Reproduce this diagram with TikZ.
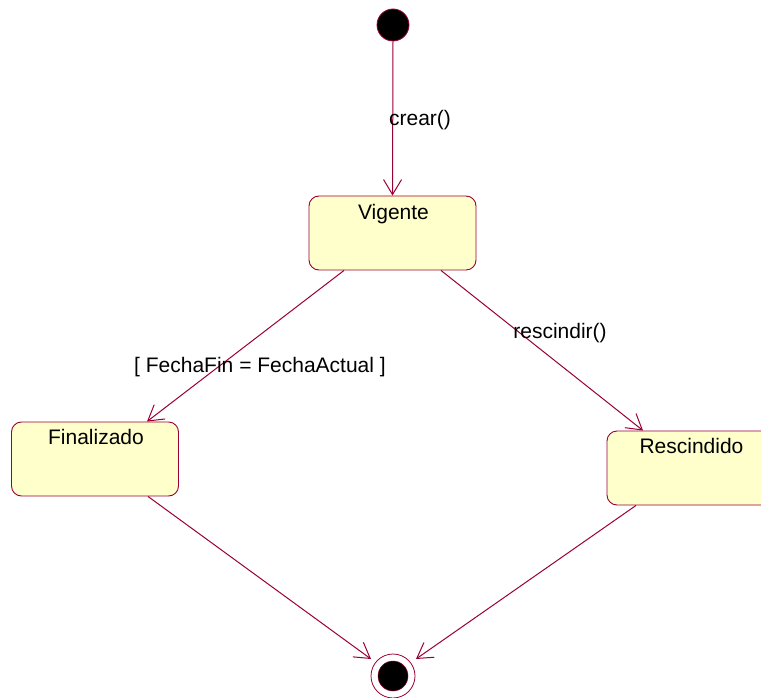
\documentclass[tikz,border=0pt]{standalone}
\usepackage{fontspec}
\setmainfont{Liberation Sans}
\usetikzlibrary{arrows.meta,calc}
\definecolor{edge}{HTML}{990033}
\definecolor{fillc}{HTML}{FFFFCC}
\tikzset{
  statebox/.style={draw=edge, fill=fillc, rounded corners=10pt, minimum width=167pt, minimum height=74pt, line width=0.9pt, inner sep=0pt},
  statetext/.style={anchor=base, font=\fontsize{21pt}{23pt}\selectfont, inner sep=0pt},
  conn/.style={draw=edge, line width=1pt, -{Straight Barb[length=15pt,width=18pt,line width=1pt]}},
  lbl/.style={font=\fontsize{21pt}{23pt}\selectfont, inner sep=0pt}
}
\begin{document}
\begin{tikzpicture}[x=1pt,y=-1pt]
\useasboundingbox (0,0) rectangle (761,698);
% initial
\node (init) [circle, draw=edge, fill=black, minimum size=32pt, inner sep=0pt, line width=0.8pt] at (393,25) {};
% final
\node (final) [circle, draw=edge, minimum size=44pt, inner sep=0pt, line width=0.8pt] at (393,676) {};
\node (finalin) [circle, draw=edge, fill=black, minimum size=30pt, inner sep=0pt, line width=0.5pt] at (393,676) {};
% states
\node (vig) [statebox] at (392.5,233) {};
\node (vigt) [statetext] at ($(vig.north)+(1,24)$) {Vigente};
\node (fin) [statebox] at (95,459) {};
\node (fint) [statetext] at ($(fin.north)+(1,23)$) {Finalizado};
\node (res) [statebox] at (690.5,468) {};
\node (rest) [statetext] at ($(res.north)+(1,23)$) {Rescindido};
% connectors
\draw[conn] (init.south) -- (vig.north);
\draw[conn] ($(vig.south)+(-48.5,0)$) -- ($(fin.north)+(52,0)$);
\draw[conn] ($(vig.south)+(48.5,0)$) -- ($(res.north)+(-47.5,0)$);
\draw[conn] ($(fin.south)+(53,0)$) -- ($(final.center)+(-22,-17)$);
\draw[conn] ($(res.south)+(-54.5,0)$) -- ($(final.center)+(23,-17)$);
% labels
\node (l1) [lbl] at (420,120) {crear()};
\node (l2) [lbl] at (260,367) {[ FechaFin = FechaActual ]};
\node (l3) [lbl] at (560,333) {rescindir()};
\end{tikzpicture}
\end{document}
